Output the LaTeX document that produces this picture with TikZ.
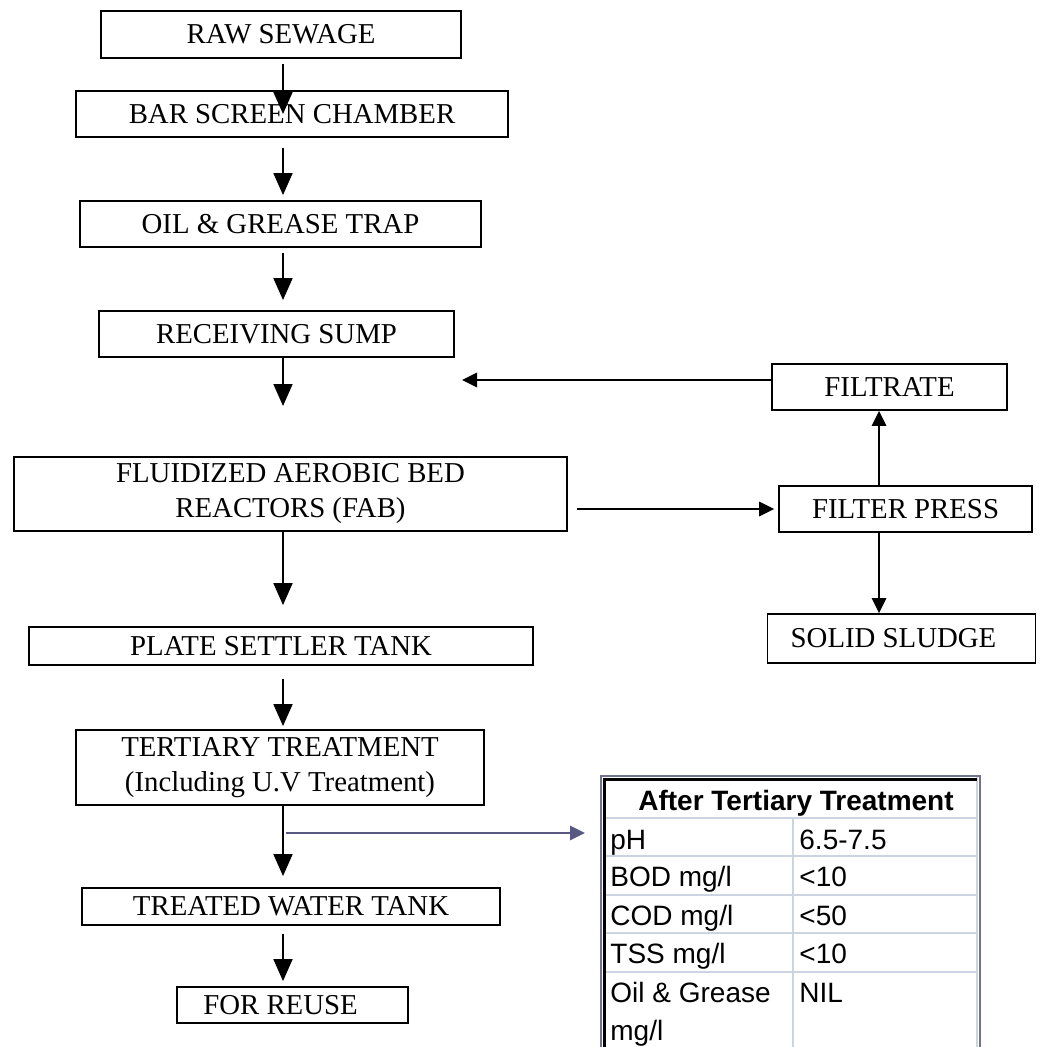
\documentclass[tikz,border=0pt]{standalone}
\usepackage{fontspec}
\setmainfont{Liberation Serif}
\newfontfamily\tabfont{Liberation Sans}
\usepackage{tikz}
\usetikzlibrary{arrows.meta,positioning}
\definecolor{slate}{RGB}{88,88,128}
\definecolor{gridc}{RGB}{204,212,226}
\definecolor{framec}{RGB}{112,114,142}

\begin{document}
\begin{tikzpicture}[x=0.5pt, y=-0.5pt]

  \tikzset{stage/.style 2 args={draw, line width=.9pt, minimum width=#1,
      minimum height=#2, inner sep=0pt, align=center,
      font=\fontsize{14.4}{17.5}\selectfont},
    flow/.style={line width=.9pt, -{Triangle[length=11pt,width=9.5pt]}},
    sideflow/.style={line width=.9pt, -{Triangle[length=7.5pt,width=7.2pt]}},
    cell/.style={anchor=base west, inner sep=0pt,
      font=\tabfont\fontsize{14}{17}\selectfont}}

  \useasboundingbox (0,0) rectangle (1042,1047);
  \coordinate (ax) at (283,0);
  \coordinate (px) at (879,0);

  \node[stage={180pt}{23.5pt}] (raw) at (281,34.5) {RAW SEWAGE};
  \node[stage={216pt}{23pt}] (bar) at (292,114) {BAR SCREEN CHAMBER};
  \node[stage={200.5pt}{23pt}] (oil) at (280.5,224) {OIL \& GREASE TRAP};
  \node[stage={177.5pt}{23pt}] (sump) at (276.5,334) {RECEIVING SUMP};
  \node[stage={276.5pt}{37pt}] (fab) at (290.5,494)
    {FLUIDIZED AEROBIC BED\\REACTORS (FAB)};
  \node[stage={252pt}{19pt}] (plate) at (281,646) {PLATE SETTLER TANK};
  \node[stage={204pt}{37.5pt}] (tert) at (280,767.5)
    {TERTIARY TREATMENT\\(Including U.V Treatment)};
  \node[stage={209pt}{18.5pt}] (treated) at (291,906.5) {TREATED WATER TANK};
  \node[stage={115.5pt}{18pt}] (reuse) at (292.5,1005) {FOR REUSE\hspace*{12pt}};

  \node[stage={117.5pt}{23pt}] (filtrate) at (889.5,387) {FILTRATE};
  \node[stage={126.5pt}{23pt}] (press) at (905.5,509) {FILTER PRESS};
  \node[stage={134pt}{24.5pt}] (sludge) at (901.5,638.5) {SOLID SLUDGE\hspace*{8pt}};

  \coordinate (join) at (283,406);
  \coordinate (ret) at (462,380);
  \coordinate (tt) at (286,833);
  \coordinate (tab) at (601,833);

  \draw[flow, shorten <=2.5pt] (raw.south -| ax) -- (bar.center -| ax);
  \draw[flow, shorten <=5pt, shorten >=2.5pt] (bar.south -| ax) -- (oil.north -| ax);
  \draw[flow, shorten <=2.5pt, shorten >=5pt] (oil.south -| ax) -- (sump.north -| ax);
  \draw[flow] (sump.south -| ax) -- (join);
  \draw[flow, shorten >=10.5pt] (fab.south -| ax) -- (plate.north -| ax);
  \draw[flow, shorten <=6.5pt, shorten >=1.5pt] (plate.south -| ax) -- (tert.north -| ax);
  \draw[flow, shorten >=5.5pt] (tert.south -| ax) -- (treated.north -| ax);
  \draw[flow, shorten <=4pt, shorten >=2.5pt] (treated.south -| ax) -- (reuse.north -| ax);

  \draw[sideflow] (ret -| filtrate.west) -- (ret);
  \draw[sideflow, shorten <=4.5pt, shorten >=2pt] (fab.east |- press.west) -- (press.west);
  \draw[sideflow] (press.north -| px) -- (filtrate.south -| px);
  \draw[sideflow] (press.south -| px) -- (sludge.north -| px);
  \draw[sideflow, slate, shorten >=8pt] (tt) -- (tab);

  \foreach \y in {818,856,895,933,972}
    \draw[gridc, line width=1.3pt] (604,\y) -- (977,\y);
  \draw[gridc, line width=1.3pt] (793,818) -- (793,1047);
  \draw[gridc, line width=1.3pt] (977,776) -- (977,1047);
  \draw[line width=1.5pt] (604.5,1047) -- (604.5,779.5) -- (977,779.5);
  \draw[framec, line width=1pt] (601,1047) -- (601,776) -- (980,776) -- (980,1047);

  \node[cell, anchor=base, font=\tabfont\bfseries\fontsize{14}{17}\selectfont]
    (head) at (796,810.7) {After Tertiary Treatment};
  \node[cell] (ph) at (610,849) {pH};
  \node[cell] (phv) at (799,849) {6.5-7.5};
  \node[cell] (bod) at (610,886.7) {BOD mg/l};
  \node[cell] (bodv) at (799,886.7) {<10};
  \node[cell] (cod) at (610,925) {COD mg/l};
  \node[cell] (codv) at (799,925) {<50};
  \node[cell] (tss) at (610,963.3) {TSS mg/l};
  \node[cell] (tssv) at (799,963.3) {<10};
  \node[cell] (og) at (610,1002.3) {Oil \& Grease};
  \node[cell] (ogu) at (610,1040) {mg/l};
  \node[cell] (ogv) at (799,1002.3) {NIL};

\end{tikzpicture}
\end{document}
